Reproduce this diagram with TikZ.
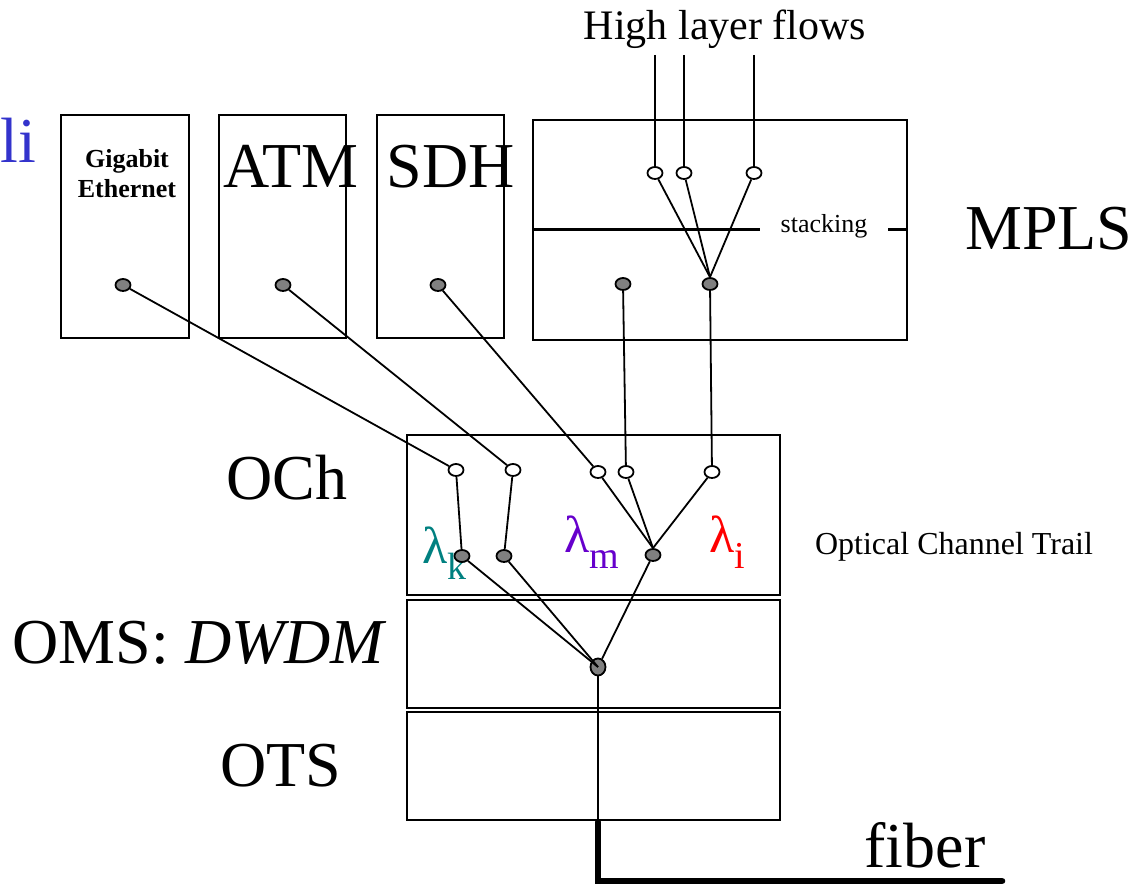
\documentclass[tikz,border=0pt]{standalone}
\usepackage{fontspec}
\setmainfont{Liberation Serif}
\usepackage{tikz}
\usetikzlibrary{shapes.geometric,positioning}
\definecolor{lamk}{RGB}{0,128,128}
\definecolor{lamm}{RGB}{102,0,204}
\definecolor{lami}{RGB}{255,0,0}
\definecolor{liblue}{RGB}{51,51,204}

\begin{document}
\begin{tikzpicture}[x=0.5pt, y=-0.5pt, line width=0.9pt,
    big/.style={font=\fontsize{32}{32}\selectfont, anchor=base},
    lam/.style={font=\fontsize{26}{26}\selectfont, anchor=base west},
    port/.style={ellipse, draw, fill=white, inner sep=0pt, minimum width=7.5pt, minimum height=6pt},
    tap/.style={port, fill=gray}]
    \useasboundingbox (0,0) rectangle (1142,887);

    % Client boxes
    \draw (61,115) rectangle (189,338);
    \draw (219,115) rectangle (346,338);
    \draw (377,115) rectangle (504,338);
    \draw (533,120) rectangle (907,340);
    \draw[line width=1.5pt] (533,230) -- (760,230);
    \draw[line width=1.5pt] (888,230) -- (907,230);

    % Optical layers
    \draw (407,435) rectangle (780,595);
    \draw (407,600) rectangle (780,708);
    \draw (407,712) rectangle (780,820);

    % Labels
    \node[big, anchor=base west, inner sep=0pt, text=liblue] (li) at (0,163) {li};
    \node[font=\fontsize{13}{15}\selectfont\bfseries, align=center, anchor=base] (gbe) at (127,198) {Gigabit\\Ethernet};
    \node[big] (atm) at (291,188) {ATM};
    \node[big] (sdh) at (451,188) {SDH};
    \node[big] (mpls) at (1049,250) {MPLS};
    \node[big] (och) at (287,500) {OCh};
    \node[big] (oms) at (200,664) {OMS: \textit{DWDM}};
    \node[big] (ots) at (281,787) {OTS};
    \node[big] (fib) at (925,868) {fiber};
    \node[font=\fontsize{21}{21}\selectfont, anchor=base] (hlf) at (725,40) {High layer flows};
    \node[font=\fontsize{13}{13}\selectfont, anchor=base] (stk) at (824,233) {stacking};
    \node[font=\fontsize{16}{16}\selectfont, anchor=base] (oct) at (954,555) {Optical Channel Trail};
    \node[lam, text=lamk] (lk) at (415,564) {λ\raisebox{-0.3em}{\fontsize{19}{19}\selectfont k}};
    \node[lam, text=lamm] (lm) at (557,553) {λ\raisebox{-0.3em}{\fontsize{19}{19}\selectfont m}};
    \node[lam, text=lami] (li2) at (702,553) {λ\raisebox{-0.3em}{\fontsize{19}{19}\selectfont i}};

    % Ports
    \node[port] (h1) at (655,173) {};
    \node[port] (h2) at (684,173) {};
    \node[port] (h3) at (754,173) {};
    \node[tap] (m1) at (623,284) {};
    \node[tap] (m2) at (710,284) {};
    \node[tap] (g) at (123,285) {};
    \node[tap] (a) at (283,285) {};
    \node[tap] (s) at (438,285) {};
    \node[port] (o1) at (456,470) {};
    \node[port] (o2) at (513,470) {};
    \node[port] (o3) at (598,472) {};
    \node[port] (o4) at (626,472) {};
    \node[port] (o5) at (712,472) {};
    \node[tap] (k1) at (462,556) {};
    \node[tap] (k2) at (504,556) {};
    \node[tap] (k3) at (653,555) {};
    \node[tap, minimum width=7.5pt, minimum height=8.5pt] (w) at (598,667) {};
    \coordinate (t1) at (655,55);
    \coordinate (t2) at (684,55);
    \coordinate (t3) at (754,55);
    \coordinate (f0) at (598,822);
    \coordinate (f1) at (598,881);
    \coordinate (f2) at (1002,881);

    % Flows
    \draw (t1) -- (h1);
    \draw (t2) -- (h2);
    \draw (t3) -- (h3);
    \draw (h1) -- (m2.north);
    \draw (h2) -- (m2.north);
    \draw (h3) -- (m2.north);
    \draw (m1) -- (o4);
    \draw (m2) -- (o5);
    \draw (g) -- (o1);
    \draw (a) -- (o2);
    \draw (s) -- (o3);
    \draw (o1) -- (k1);
    \draw (o2) -- (k2);
    \draw (o3) -- (k3.north);
    \draw (o4) -- (k3.north);
    \draw (o5) -- (k3.north);
    \draw (k1) -- (w.center);
    \draw (k2) -- (w.center);
    \draw (k3) -- (w);
    \draw (w) -- (f0);

    % Fiber
    \draw[line width=3.3pt, line cap=round] (f0) -- (f1) -- (f2);
\end{tikzpicture}
\end{document}
